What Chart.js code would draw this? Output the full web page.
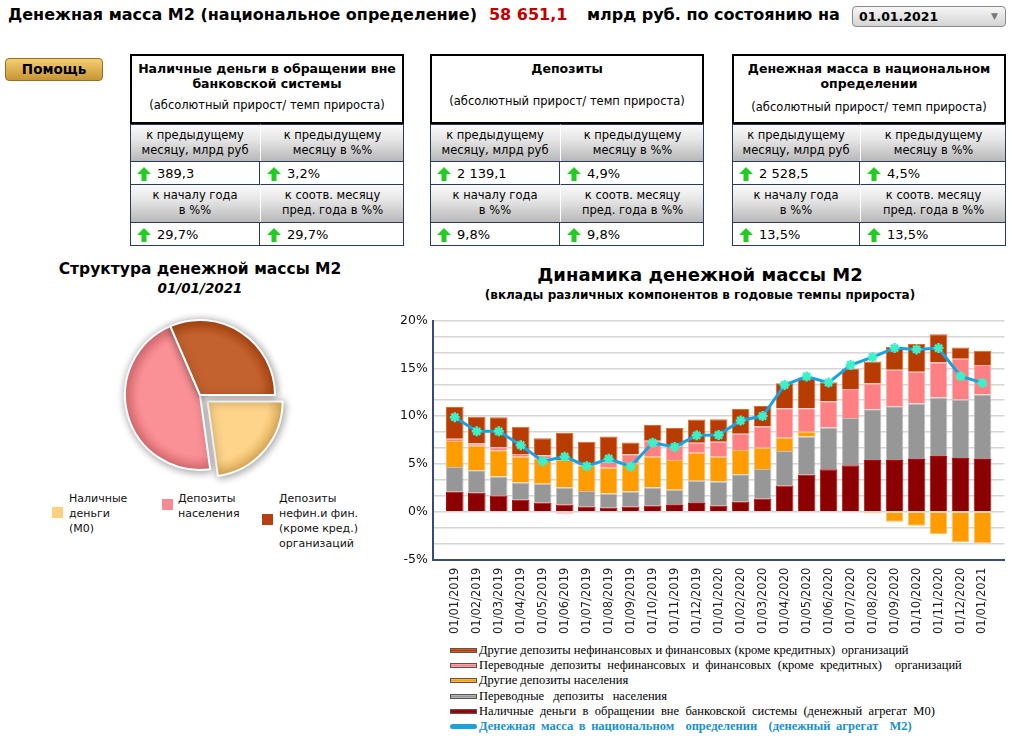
<!DOCTYPE html>
<html><head><meta charset="utf-8">
<script src="https://cdn.jsdelivr.net/npm/chart.js@4.4.1/dist/chart.umd.min.js"></script>
<style>
body{margin:0;background:#fff;font-family:"DejaVu Sans",Verdana,sans-serif;width:1012px;height:741px;overflow:hidden;position:relative}
.abs{position:absolute}
#title{left:8px;top:5px;font-weight:bold;font-size:16px;white-space:nowrap;letter-spacing:0}
#title .red{color:#c00000;margin:0 14px 0 12px}
#sel{left:852px;top:6px;width:152px;height:19px;border:1px solid #8a8a8a;border-radius:4px;background:linear-gradient(#f6f6f6,#d4d4d4);font-weight:bold;font-size:12.5px;line-height:19px;box-sizing:content-box}
#sel span{position:absolute;left:6px}
#sel i{position:absolute;right:7px;top:0;font-style:normal;color:#777;font-size:9px}
#help{left:5px;top:58px;width:96px;height:21px;border:1px solid #9a7020;border-radius:4px;background:linear-gradient(#f3cf70,#c99434);font-weight:bold;font-size:13.5px;text-align:center;line-height:21px}
.tbl{position:absolute;top:54px;width:274px;height:192px}
.hd{position:absolute;left:0;top:0;width:270px;height:66px;border:2px solid #000;text-align:center}
.hd b{display:block;font-size:12.5px;line-height:15px;margin-top:5px}
.hd .s{position:absolute;left:0;right:0;font-size:11.5px}
.gc{position:absolute;height:37px;background:linear-gradient(#fafafa,#e6e6e6 40%,#b8b8b8);font-size:11.5px;line-height:15px;text-align:center;padding-top:3px;box-sizing:border-box;border-top:1px solid #2a3a5a}
.vc{position:absolute;height:23px;font-size:13px;line-height:23px;box-sizing:border-box;border-top:1px solid #2a3a5a}
.vc svg{position:absolute;left:7px;top:5px}
.vc span{position:absolute;left:27px}
.frame{position:absolute;left:0;top:70px;width:274px;height:122px;border:1px solid #2a3a5a;border-top:none;box-sizing:border-box}
#ptitle{left:0;top:260px;width:400px;text-align:center;font-weight:bold;font-size:15.5px}
#pdate{left:0;top:280px;width:400px;text-align:center;font-weight:bold;font-style:italic;font-size:13.5px}
.pl{position:absolute;font-size:11px;line-height:15px;color:#111}
.sq{position:absolute;width:11px;height:11px}
#btitle{left:390px;top:264px;width:620px;text-align:center;font-weight:bold;font-size:18px}
#bsub{left:390px;top:288px;width:620px;text-align:center;font-weight:bold;font-size:12px}
#leg{left:450px;top:643px;font-family:"Liberation Serif","Times New Roman",serif;font-size:12.5px;line-height:15.2px}
#leg div{position:relative;padding-left:29px;white-space:nowrap}
#leg i{position:absolute;left:0;top:5px;width:27px;height:5px;border:1px solid #555;box-sizing:border-box}
</style></head><body>
<div id="title" class="abs">Денежная масса М2 (национальное определение)<span class="red">58 651,1</span> млрд руб. по состоянию на</div>
<div id="sel" class="abs"><span>01.01.2021</span><i>▼</i></div>
<div id="help" class="abs">Помощь</div>
<div id="tables"></div>

<div id="ptitle" class="abs">Структура денежной массы М2</div>
<div id="pdate" class="abs">01/01/2021</div>
<canvas id="pie" class="abs" style="left:80px;top:300px;width:240px;height:190px"></canvas>
<div class="sq" style="left:52px;top:507px;background:#fdd080"></div>
<div class="pl" style="left:69px;top:491px">Наличные<br>деньги<br>(М0)</div>
<div class="sq" style="left:162px;top:499px;background:#f98a90"></div>
<div class="pl" style="left:178px;top:491px">Депозиты<br>населения</div>
<div class="sq" style="left:262px;top:514px;background:#b84010"></div>
<div class="pl" style="left:279px;top:491px">Депозиты<br>нефин.и фин.<br>(кроме кред.)<br>организаций</div>

<div id="btitle" class="abs">Динамика денежной массы М2</div>
<div id="bsub" class="abs">(вклады различных компонентов в годовые темпы прироста)</div>
<canvas id="bar" class="abs" style="left:388px;top:308px;width:624px;height:326px"></canvas>
<div id="leg" class="abs"></div>

<script>
// ---- data ----
const dates = ["01/01/2019","01/02/2019","01/03/2019","01/04/2019","01/05/2019","01/06/2019","01/07/2019","01/08/2019","01/09/2019","01/10/2019","01/11/2019","01/12/2019","01/01/2020","01/02/2020","01/03/2020","01/04/2020","01/05/2020","01/06/2020","01/07/2020","01/08/2020","01/09/2020","01/10/2020","01/11/2020","01/12/2020","01/01/2021"];
const cashM0 =        [2.1,2.0,1.7,1.27,0.95,0.78,0.53,0.42,0.53,0.64,0.71,0.92,0.64,1.06,1.38,2.76,3.89,4.46,4.88,5.41,5.41,5.52,5.84,5.62,5.52];
const transHouse =    [2.6,2.35,2.0,1.8,2.0,1.77,1.66,1.49,1.59,1.91,1.59,2.33,2.54,2.87,3.11,3.61,4.0,4.35,4.92,5.31,5.63,5.8,6.12,6.12,6.75];
const otherHouse =    [2.7,2.55,2.75,2.7,2.65,2.86,2.69,2.69,2.97,3.22,3.11,2.94,2.59,2.54,2.2,1.38,0.49,0,-0.07,-0.18,-1.03,-1.45,-2.3,-3.15,-3.29];
const transOrg =      [0.25,0.25,0.3,0.28,0.32,-0.2,0.05,0.64,0.92,1.66,1.49,1.03,1.55,1.7,2.22,3.07,2.44,2.76,3.04,2.69,3.82,3.32,3.64,4.25,3.08];
const otherOrg =      [3.3,2.8,3.15,2.85,1.77,2.83,2.4,2.65,1.24,1.66,1.87,2.44,2.37,2.58,2.16,2.62,3.22,1.98,2.12,2.3,2.37,2.91,2.97,1.2,1.49];
const m2Growth =      [9.9,8.42,8.42,6.97,5.3,5.77,4.78,5.55,4.74,7.22,6.79,8.0,8.03,9.55,10.01,13.27,14.15,13.51,15.35,16.17,17.12,16.98,17.12,14.18,13.48];
const yTickLabels = [-5,0,5,10,15,20];

const pieLabels = ["Наличные деньги (М0)","Депозиты населения","Депозиты нефин.и фин. (кроме кред.) организаций"];
const pieValues = [13384.1, 26800, 18467];

const tableTitles = ["Наличные деньги в обращении вне банковской системы","Депозиты","Денежная масса в национальном определении"];
const tableMoM = ["389,3","2 139,1","2 528,5"];
const tableMoMPct = ["3,2%","4,9%","4,5%"];
const tableYtd = ["29,7%","9,8%","13,5%"];
const tableYoY = ["29,7%","9,8%","13,5%"];

// ---- tables ----
const arrow = '<svg width="14" height="14" viewBox="0 0 14 14"><path d="M7 0 L14 7 L9.5 7 L9.5 14 L4.5 14 L4.5 7 L0 7 Z" fill="#22cc22"/></svg>';
const lefts=[130,430,732], splits=[130,130,128];
const titleHtml=["Наличные деньги в обращении вне<br>банковской системы","Депозиты","Денежная масса в национальном<br>определении"];
const subTop=[46,42,48];
let html='';
for(let i=0;i<3;i++){
  const w=274, s=splits[i];
  html+=`<div class="tbl" style="left:${lefts[i]}px">
  <div class="hd"><b>${titleHtml[i]}</b><div class="s" style="top:${subTop[i]-4}px">(абсолютный прирост/ темп прироста)</div></div>
  <div class="gc" style="left:0;top:70px;width:${s}px">к предыдущему<br>месяцу, млрд руб</div>
  <div class="gc" style="left:${s}px;top:70px;width:${w-s}px;border-left:1px solid #fff">к предыдущему<br>месяцу в %%</div>
  <div class="vc" style="left:0;top:107px;width:${s}px;border-right:1px solid #2a3a5a">${arrow}<span>${tableMoM[i]}</span></div>
  <div class="vc" style="left:${s}px;top:107px;width:${w-s}px">${arrow}<span>${tableMoMPct[i]}</span></div>
  <div class="gc" style="left:0;top:130px;width:${s}px;height:38px">к началу года<br>в %%</div>
  <div class="gc" style="left:${s}px;top:130px;width:${w-s}px;height:38px;border-left:1px solid #fff">к соотв. месяцу<br>пред. года в %%</div>
  <div class="vc" style="left:0;top:168px;width:${s}px;height:24px;border-right:1px solid #2a3a5a">${arrow}<span>${tableYtd[i]}</span></div>
  <div class="vc" style="left:${s}px;top:168px;width:${w-s}px;height:24px">${arrow}<span>${tableYoY[i]}</span></div>
  <div class="frame"></div></div>`;
}
document.getElementById('tables').innerHTML=html;

// ---- pie ----
const pieBase=["#fdd48a","#fa9196","#c4622f"], pieEdge=["#d9a24a","#d8656c","#a43d0a"];
new Chart(document.getElementById('pie'),{
  type:'pie',
  data:{labels:pieLabels,datasets:[{data:pieValues,
    backgroundColor:(c)=>{const a=c.chart.chartArea;if(!a)return pieBase[c.dataIndex];
      const cx=(a.left+a.right)/2, cy=(a.top+a.bottom)/2;
      const g=c.chart.ctx.createRadialGradient(cx,cy,0,cx,cy,80);
      g.addColorStop(0,pieBase[c.dataIndex]);g.addColorStop(0.75,pieBase[c.dataIndex]);g.addColorStop(1,pieEdge[c.dataIndex]);return g;},
    borderColor:'#fff',borderWidth:2,offset:[40,0,0]}]},
  options:{responsive:false,devicePixelRatio:1,animation:false,rotation:90,radius:75,
    layout:{padding:{top:0,bottom:0}},
    plugins:{legend:{display:false},tooltip:{enabled:false}}},
  plugins:[{id:'sh',beforeDatasetsDraw(ch){ch.ctx.save();ch.ctx.shadowColor='rgba(0,0,0,0.4)';ch.ctx.shadowBlur=9;ch.ctx.shadowOffsetX=1;ch.ctx.shadowOffsetY=1;},afterDatasetsDraw(ch){ch.ctx.restore();}}]
});

// ---- bar ----
const cols=[
 {label:"Другие депозиты нефинансовых и финансовых (кроме кредитных)  организаций",data:otherOrg,bg:"#b83c00",bd:"#e06a2a",ws:0},
 {label:"Переводные депозиты нефинансовых и финансовых (кроме кредитных)  организаций",data:transOrg,bg:"#ff8082",bd:"#ffb0b0",ws:3.3},
 {label:"Другие депозиты населения",data:otherHouse,bg:"#ff9c00",bd:"#ffc060",ws:0},
 {label:"Переводные депозиты населения",data:transHouse,bg:"#979797",bd:"#c0c0c0",ws:6},
 {label:"Наличные деньги в обращении вне банковской системы (денежный агрегат М0)",data:cashM0,bg:"#8b0000",bd:"#c00000",ws:3.3}
];
const barSets = cols.slice().reverse().map(c=>({type:'bar',label:c.label,data:c.data,backgroundColor:c.bg,borderColor:c.bd,borderWidth:1,stack:'s',order:2,barPercentage:0.8,categoryPercentage:1}));
const lineSet={type:'line',label:"Денежная масса в национальном  определении  (денежный агрегат  М2)",data:m2Growth,borderColor:'#19a2e0',borderWidth:3,
  pointStyle:'star',pointRadius:5,pointBorderColor:'#3ef0c8',pointBackgroundColor:'#3ef0c8',pointBorderWidth:2.5,stack:'line',order:0,tension:0};
new Chart(document.getElementById('bar'),{
  data:{labels:dates,datasets:[lineSet,...barSets]},
  options:{responsive:false,devicePixelRatio:1,animation:false,
    layout:{padding:{top:12,right:6,left:7,bottom:0}},
    plugins:{legend:{display:false},tooltip:{enabled:false}},
    scales:{
      x:{stacked:true,grid:{display:false},border:{color:'#3a4a7a',width:2},
        // extra half-category gap on each side inside the plot, as in the reference
        afterUpdate:(s)=>{s._startValue=-1.0;s._valueRange=dates.length+1;},
        ticks:{color:'#222',font:{family:'DejaVu Sans',size:11.5},minRotation:90,maxRotation:90,autoSkip:false,padding:0}},
      y:{stacked:true,min:yTickLabels[0],max:yTickLabels[yTickLabels.length-1],
        afterBuildTicks:(ax)=>{const t=[];for(let i=0;i<(yTickLabels.length-1)*3+1;i++){t.push({value:yTickLabels[0]+i*5/3});}ax.ticks=t;},
        grid:{color:'#d6d6d6',lineWidth:1.5,drawTicks:false},border:{color:'#3a4a7a',width:2},
        ticks:{color:'#111',font:{family:'DejaVu Sans',size:12.5},padding:5,autoSkip:false,
          callback:(v)=>{const r=Math.round(v);return Math.abs(v-r)<1e-6&&r%5===0?r+'%':'';}}}
    }
  }
});

// ---- legend ----
const leg=document.getElementById('leg');
cols.forEach(c=>{leg.innerHTML+=`<div style="word-spacing:${c.ws}px"><i style="background:linear-gradient(${c.bd},${c.bg} 50%,${c.bd})"></i>${c.label.replace(/  /g,'&nbsp; ')}</div>`;});
leg.innerHTML+=`<div style="color:#1a90d0;font-weight:bold;word-spacing:2.5px"><i style="background:#19a2e0;border:none;height:5px;border-radius:3px"></i>${lineSet.label.replace(/  /g,'&nbsp; ')}</div>`;
</script>
</body></html>
